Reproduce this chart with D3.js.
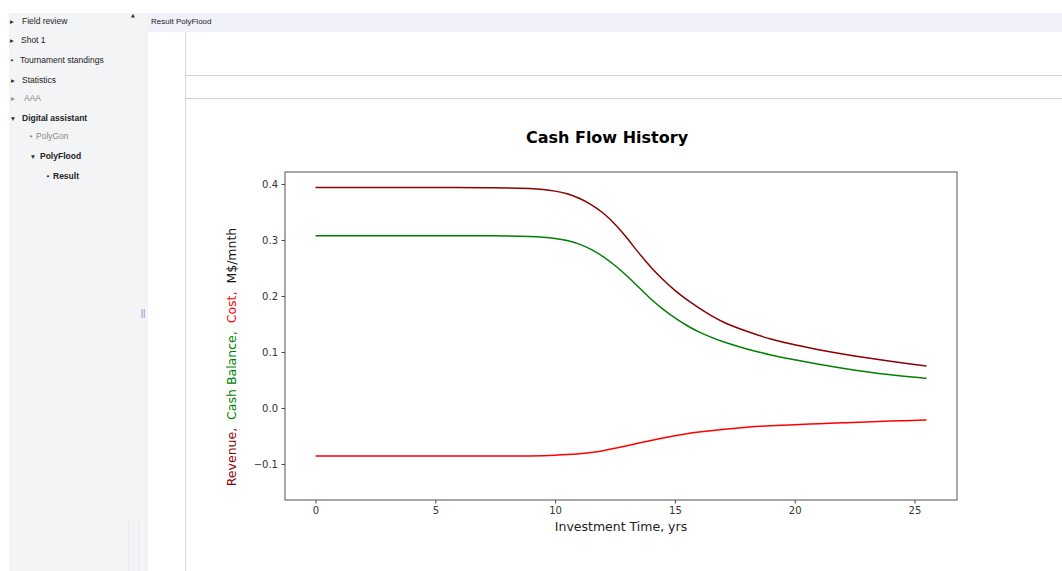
<!DOCTYPE html>
<html>
<head>
<meta charset="utf-8">
<script src="https://cdn.jsdelivr.net/npm/d3@7"></script>
<style>
  body { margin: 0; background: #fff; }
  svg { display: block; }
</style>
</head>
<body>
<div id="chart"></div>
<script>
/* Cash flow history page */

const years   = [0, 2, 4, 6, 7, 8, 9, 9.5, 10, 10.5, 11, 11.5, 12, 12.5, 13, 13.5, 14, 14.5, 15, 15.5, 16, 16.5, 17, 18, 19, 20, 21, 22, 23, 24, 25, 25.5];
const revenue = [0.3935, 0.3935, 0.3935, 0.3935, 0.3935, 0.3932, 0.392, 0.3905, 0.3875, 0.383, 0.375, 0.364, 0.349, 0.329, 0.304, 0.276, 0.251, 0.229, 0.2095, 0.193, 0.1785, 0.165, 0.153, 0.1365, 0.1225, 0.1125, 0.104, 0.0965, 0.0895, 0.0835, 0.0775, 0.075];
const balance = [0.3077, 0.3077, 0.3077, 0.3077, 0.3077, 0.3073, 0.3062, 0.305, 0.303, 0.2995, 0.293, 0.284, 0.271, 0.255, 0.236, 0.215, 0.194, 0.176, 0.1605, 0.147, 0.1355, 0.1265, 0.118, 0.105, 0.0945, 0.0858, 0.078, 0.071, 0.0645, 0.059, 0.0547, 0.053];
const cost    = [-0.0858, -0.0858, -0.0858, -0.0858, -0.0858, -0.0858, -0.0856, -0.0852, -0.0845, -0.0833, -0.0817, -0.0794, -0.0764, -0.0722, -0.0673, -0.0626, -0.058, -0.0537, -0.0496, -0.046, -0.043, -0.0404, -0.0381, -0.0342, -0.0315, -0.0297, -0.0281, -0.0265, -0.0248, -0.0234, -0.0221, -0.0214];

const xTicks = [0, 5, 10, 15, 20, 25];
const yTicks = [0.4, 0.3, 0.2, 0.1, 0.0, -0.1];

const menuItems = ["Field review", "Shot 1", "Tournament standings", "Statistics", "AAA", "Digital assistant", "PolyGon", "PolyFlood", "Result"];
const menuMarks = ["▸", "▸", "•", "▸", "▸", "▾", "•", "▾", "•"];

const width = 1062, height = 571;
const plot = {left: 285, right: 957, top: 172, bottom: 500};

let svg = d3.select("#chart")
            .append("svg")
            .attr("width", width)
            .attr("height", height);

// page chrome
svg.append("rect").attr("x", 9).attr("y", 13).attr("width", 139).attr("height", height - 13).attr("fill", "#f3f4f6");
svg.append("rect").attr("x", 148).attr("y", 13).attr("width", width - 148).attr("height", 19).attr("fill", "#eff0f9");
svg.append("text").attr("x", 151).attr("y", 23.5).text("Result PolyFlood")
    .style("font", "8px 'Liberation Sans', Arial, sans-serif").style("fill", "#222");
svg.append("line").attr("x1", 185.5).attr("x2", 185.5).attr("y1", 32).attr("y2", height).attr("stroke", "#d6d7e0");
svg.append("line").attr("x1", 185).attr("x2", width).attr("y1", 75.5).attr("y2", 75.5).attr("stroke", "#d0d1dc");
svg.append("line").attr("x1", 185).attr("x2", width).attr("y1", 98.5).attr("y2", 98.5).attr("stroke", "#d0d1dc");
svg.append("text").attr("x", 133).attr("y", 17).attr("text-anchor", "middle").text("▲")
    .style("font", "5px 'DejaVu Sans', sans-serif").style("fill", "#333");
svg.append("text").attr("x", 143).attr("y", 316).attr("text-anchor", "middle").text("||")
    .style("font", "9px 'Liberation Sans', sans-serif").style("fill", "#8a7ce0");
svg.append("line").attr("x1", 128.5).attr("x2", 128.5).attr("y1", 520).attr("y2", height).attr("stroke", "#e9eaee");
svg.append("line").attr("x1", 138.5).attr("x2", 138.5).attr("y1", 520).attr("y2", height).attr("stroke", "#e9eaee");

// sidebar menu
const menuY = [24, 43, 63, 83, 101, 121, 139, 159, 179];
const menuX = [22, 21, 20, 22, 24, 22, 36, 40, 53];
const markX = [12, 12, 12, 13, 13, 13, 31, 33, 48];
const menuBold = [false, false, false, false, false, true, false, true, true];
const menuGray = [false, false, false, false, true, false, true, false, false];

let menu = svg.selectAll(".menu")
    .data(menuItems)
    .join("g")
    .attr("class", "menu");

menu.append("text")
    .attr("x", (d, i) => markX[i])
    .attr("y", (d, i) => menuY[i] - 0.5)
    .attr("text-anchor", "middle")
    .text((d, i) => menuMarks[i])
    .style("font", "7.5px 'DejaVu Sans', sans-serif")
    .style("fill", (d, i) => menuGray[i] ? "#888" : "#333");

menu.append("text")
    .attr("x", (d, i) => menuX[i])
    .attr("y", (d, i) => menuY[i])
    .text(d => d)
    .style("font-family", "'Liberation Sans', Arial, sans-serif")
    .style("font-size", "8.5px")
    .style("font-weight", (d, i) => menuBold[i] ? "bold" : "normal")
    .style("fill", (d, i) => menuGray[i] ? "#888" : "#222");

// chart
const x = d3.scaleLinear()
            .domain([-1.275, 26.775])
            .range([plot.left, plot.right]);

const y = d3.scaleLinear()
            .domain([-0.1643, 0.4214])
            .range([plot.bottom, plot.top]);

const tickFont = "10px 'DejaVu Sans', sans-serif";

const xAxis = g => g
        .attr("transform", `translate(0,${plot.bottom})`)
        .call(d3.axisBottom(x).tickValues(xTicks).tickFormat(d3.format("d")).tickSize(3.5).tickPadding(3.5))
        .call(g => g.select(".domain").remove())

const yAxis = g => g
        .attr("transform", `translate(${plot.left},0)`)
        .call(d3.axisLeft(y).tickValues(yTicks).tickFormat(d3.format(".1f")).tickSize(3.5).tickPadding(3.5))
        .call(g => g.select(".domain").remove())

svg.append("g").call(xAxis);
svg.append("g").call(yAxis);

svg.selectAll(".tick line").attr("stroke", "#444");
svg.selectAll(".tick text").style("font", tickFont).style("fill", "#333");

svg.append("rect")
    .attr("x", plot.left).attr("y", plot.top)
    .attr("width", plot.right - plot.left).attr("height", plot.bottom - plot.top)
    .attr("fill", "none").attr("stroke", "#555").attr("stroke-width", 1);

const series = [
    {name: "revenue", values: revenue, color: "#8b0000"},
    {name: "balance", values: balance, color: "#008000"},
    {name: "cost", values: cost, color: "#ff0000"}
];

const line = d3.line()
    .x((d, i) => x(years[i]))
    .y(d => y(d))
    .curve(d3.curveBasis);

svg.selectAll(".series")
    .data(series)
    .join("path")
    .attr("class", "series")
    .attr("d", d => line(d.values))
    .attr("fill", "none")
    .attr("stroke", d => d.color)
    .attr("stroke-width", 1.5);

svg.append("text")
    .attr("x", 607).attr("y", 142.5)
    .attr("text-anchor", "middle")
    .text("Cash Flow History")
    .style("font", "bold 16px 'DejaVu Sans', sans-serif")
    .style("fill", "#000");

svg.append("text")
    .attr("x", 621).attr("y", 531)
    .attr("text-anchor", "middle")
    .text("Investment Time, yrs")
    .style("font", "12.5px 'DejaVu Sans', sans-serif")
    .style("fill", "#222");

const yLabel = svg.append("text")
    .attr("transform", "translate(236,357) rotate(-90)")
    .attr("text-anchor", "middle")
    .style("font", "12.5px 'DejaVu Sans', sans-serif")
    .attr("xml:space", "preserve");

yLabel.append("tspan").text("Revenue,  ").style("fill", "#8b0000");
yLabel.append("tspan").text("Cash Balance,  ").style("fill", "#008000");
yLabel.append("tspan").text("Cost,  ").style("fill", "#ff0000");
yLabel.append("tspan").text("M$/mnth").style("fill", "#111");
</script>
</body>
</html>
